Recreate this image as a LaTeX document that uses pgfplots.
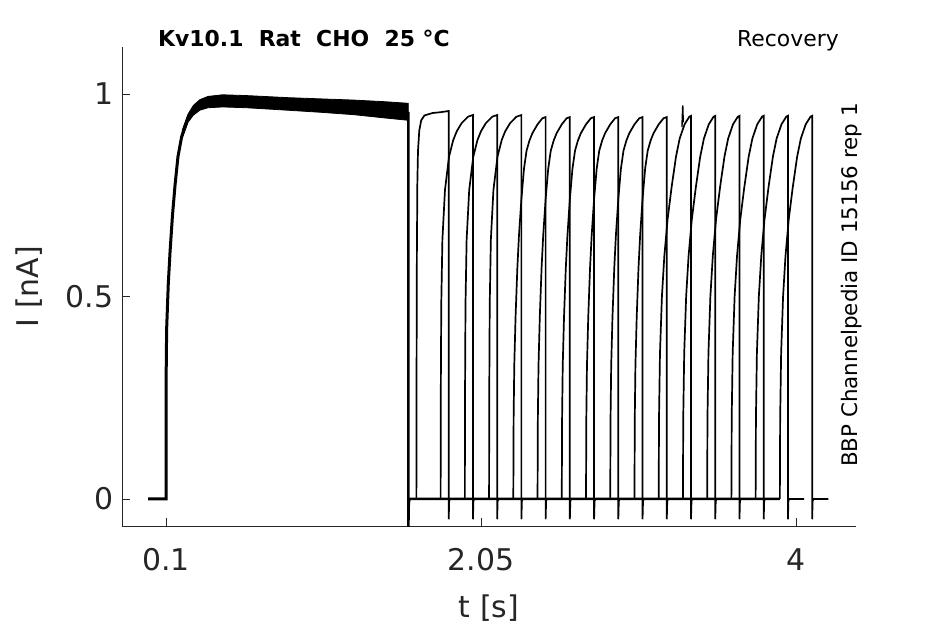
\documentclass[border=0pt]{standalone}
\usepackage{pgfplots}
\pgfplotsset{compat=1.18}
\usepackage{pgfplotstable}
\usepackage{fontspec}
\setmainfont{DejaVu Sans}
\definecolor{txt}{HTML}{262626}
\definecolor{axc}{HTML}{262626}

% second-pulse shapes, tau = time after test-pulse onset [s], I [nA]
\pgfplotstableread{
tau I
0 0
0.001 0.30
0.003 0.60
0.006 0.78
0.010 0.86
0.018 0.91
0.030 0.935
0.050 0.947
0.100 0.953
0.150 0.955
0.200 0.958
0.200 -0.05
0.203 -0.006
0.207 0
0.300 0
}\shapeA
\pgfplotstableread{
tau I
0 0
0.001 0.25
0.004 0.48
0.011 0.64
0.027 0.763
0.052 0.845
0.078 0.886
0.100 0.908
0.130 0.928
0.170 0.944
0.200 0.948
0.200 -0.05
0.203 -0.006
0.207 0
0.300 0
}\shapeB
\pgfplotstableread{
tau I
0 0
0.002 0.20
0.006 0.33
0.014 0.45
0.025 0.57
0.035 0.65
0.050 0.74
0.066 0.815
0.082 0.86
0.100 0.885
0.118 0.903
0.150 0.925
0.180 0.940
0.200 0.943
0.200 -0.05
0.203 -0.006
0.207 0
0.300 0
}\shapeC
\pgfplotstableread{
tau I
0 0
0.002 0.20
0.008 0.36
0.020 0.50
0.035 0.60
0.055 0.69
0.080 0.77
0.107 0.845
0.130 0.89
0.160 0.925
0.190 0.944
0.200 0.946
0.200 -0.05
0.203 -0.006
0.207 0
0.300 0
}\shapeD

\begin{document}
\begin{tikzpicture}
\useasboundingbox (-122bp,-98bp) rectangle (823bp,526bp);
\begin{axis}[
  at={(0,0)}, anchor=south west,
  scale only axis, width=734bp, height=479bp,
  xmin=-0.1724, xmax=4.3715, ymin=-0.0667, ymax=1.116,
  axis x line*=bottom, axis y line*=left,
  axis line style={draw=axc, line width=0.8bp, -},
  tick align=inside, major tick length=8bp,
  tick style={draw=axc, line width=0.8bp},
  xtick={0.1,2.05,4}, xticklabels={0.1,2.05,4},
  ytick={0,0.5,1}, yticklabels={0,0.5,1},
  /pgf/number format/assume math mode=true,
  tick label style={font=\fontsize{30}{36}\selectfont, text=txt},
  xticklabel style={yshift=-19bp},
  yticklabel style={xshift=-5bp},
  clip mode=individual,
]
% first pulse (all sweeps overlaid)
\addplot[black, line width=3bp] coordinates {
(-0.01,0) (0.1,0) (0.1003,0.28) (0.104,0.42) (0.114,0.53) (0.125,0.61) (0.14,0.70)
(0.156,0.775) (0.174,0.845) (0.197,0.895) (0.236,0.94) (0.27,0.96) (0.31,0.973)
(0.36,0.981) (0.42,0.985)};
\addplot[black, fill=black, line width=0.8bp] coordinates {
(0.2,0.91) (0.236,0.95) (0.27,0.972) (0.31,0.986) (0.36,0.994) (0.45,0.998)
(0.6,0.996) (0.85,0.991) (1.05,0.988) (1.26,0.985) (1.45,0.981) (1.6,0.977)
(1.6,0.935) (1.45,0.941) (1.26,0.949) (1.05,0.955) (0.85,0.96) (0.6,0.966)
(0.45,0.968) (0.36,0.966) (0.31,0.96) (0.27,0.948) (0.236,0.93) (0.2,0.89)} -- cycle;
\addplot[black, line width=2.5bp] coordinates {
(1.6,0.956) (1.6,-0.08) (1.603,-0.01) (1.607,0) (3.9,0)};
% test pulses
\addplot[black, line width=1.7bp] table[x expr=\thisrow{tau}+1.65, y=I] {\shapeA};
\addplot[black, line width=1.7bp] table[x expr=\thisrow{tau}+1.80, y=I] {\shapeB};
\addplot[black, line width=1.7bp] table[x expr=\thisrow{tau}+1.95, y=I] {\shapeB};
\addplot[black, line width=1.7bp] table[x expr=\thisrow{tau}+2.10, y=I] {\shapeB};
\addplot[black, line width=1.7bp] table[x expr=\thisrow{tau}+2.25, y=I] {\shapeC};
\addplot[black, line width=1.7bp] table[x expr=\thisrow{tau}+2.40, y=I] {\shapeC};
\addplot[black, line width=1.7bp] table[x expr=\thisrow{tau}+2.55, y=I] {\shapeC};
\addplot[black, line width=1.7bp] table[x expr=\thisrow{tau}+2.70, y=I] {\shapeC};
\addplot[black, line width=1.7bp] table[x expr=\thisrow{tau}+2.85, y=I] {\shapeC};
\addplot[black, line width=1.7bp] table[x expr=\thisrow{tau}+3.00, y=I] {\shapeC};
\addplot[black, line width=1.7bp] table[x expr=\thisrow{tau}+3.15, y=I] {\shapeD};
\addplot[black, line width=1.7bp] table[x expr=\thisrow{tau}+3.30, y=I] {\shapeD};
\addplot[black, line width=1.7bp] table[x expr=\thisrow{tau}+3.45, y=I] {\shapeD};
\addplot[black, line width=1.7bp] table[x expr=\thisrow{tau}+3.60, y=I] {\shapeD};
\addplot[black, line width=1.7bp] table[x expr=\thisrow{tau}+3.75, y=I] {\shapeD};
\addplot[black, line width=1.7bp] table[x expr=\thisrow{tau}+3.90, y=I] {\shapeD};
\addplot[black, line width=1.4bp] coordinates {(3.294,0.918) (3.299,0.972) (3.302,0.93)};

\node[anchor=base, font=\fontsize{30}{36}\selectfont, text=txt] at (axis description cs:0.5,-0.19) {t [s]};
\node[anchor=base, rotate=90, font=\fontsize{30}{36}\selectfont, text=txt] at (axis description cs:-0.1144,0.5) {I [nA]};
\node[anchor=base west, inner sep=0pt, font=\fontsize{22}{26}\selectfont\bfseries, text=black] at (axis description cs:0.049,1.002) {Kv10.1\ \ Rat\ \ CHO\ \ 25 °C};
\node[anchor=base east, inner sep=0pt, font=\fontsize{22}{26}\selectfont, text=black] at (axis description cs:0.9768,1.002) {Recovery};
\node[anchor=base, rotate=90, font=\fontsize{21.5}{26}\selectfont, text=black] at (axis description cs:1.0027,0.503) {BBP Channelpedia ID 15156 rep 1};
\end{axis}
\end{tikzpicture}
\end{document}
